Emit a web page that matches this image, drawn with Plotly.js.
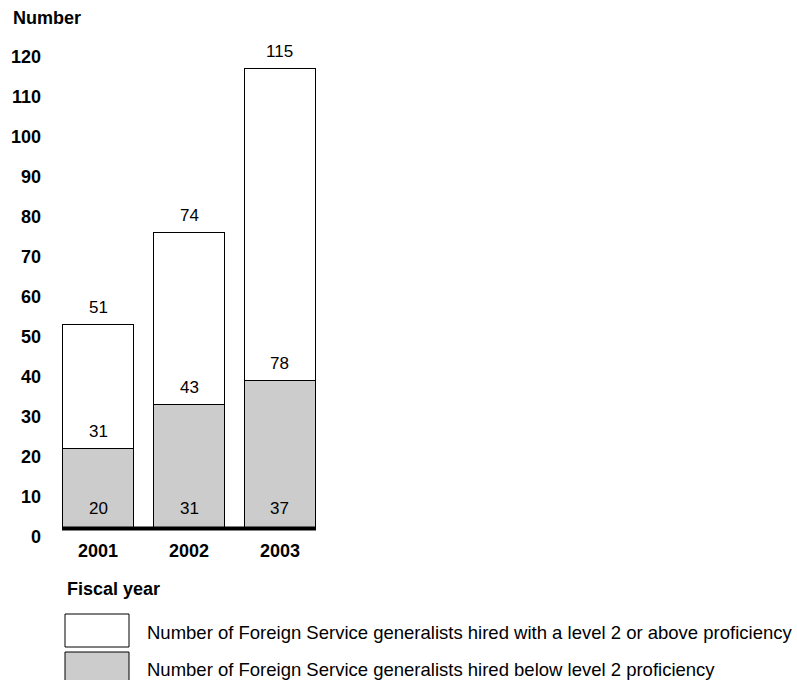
<!DOCTYPE html>
<html>
<head>
<meta charset="utf-8">
<script src="https://cdn.plot.ly/plotly-3.0.1.min.js"></script>
<style>
html,body{margin:0;padding:0;background:#fff;}
#chart{width:797px;height:680px;}
</style>
</head>
<body>
<div id="chart"></div>
<script>
var years = ['2001', '2002', '2003'];
var belowLevel2 = [20, 31, 37];
var level2OrAbove = [31, 43, 78];
var totals = [51, 74, 115];
var legendLabels = [
  'Number of Foreign Service generalists hired with a level 2 or above proficiency',
  'Number of Foreign Service generalists hired below level 2 proficiency'
];

var FONT = 'Liberation Sans, Arial, Helvetica, sans-serif';

var traces = [
  {
    type: 'bar', x: years, y: belowLevel2, name: legendLabels[1],
    marker: {color: '#cccccc', line: {color: '#000', width: 1}},
    hoverinfo: 'x+y'
  },
  {
    type: 'bar', x: years, y: level2OrAbove, name: legendLabels[0],
    marker: {color: '#ffffff', line: {color: '#000', width: 1}},
    hoverinfo: 'x+y'
  }
];

var labelFont = {family: FONT, size: 17, color: '#000'};
var annotations = [];
for (var i = 0; i < years.length; i++) {
  // category axis: annotations use the category index
  annotations.push({x: i, y: 0, yshift: 20, text: String(belowLevel2[i]), showarrow: false,
    font: labelFont, xref: 'x', yref: 'y'});
  annotations.push({x: i, y: belowLevel2[i], yshift: 17, text: String(level2OrAbove[i]), showarrow: false,
    font: labelFont, xref: 'x', yref: 'y'});
  annotations.push({x: i, y: totals[i], yshift: 17, text: String(totals[i]), showarrow: false,
    font: labelFont, xref: 'x', yref: 'y'});
}
// Titles
annotations.push({xref: 'paper', yref: 'paper', x: -51/254, y: 1 + 30/480, xanchor: 'left', yanchor: 'middle',
  text: 'Number', showarrow: false, font: {family: FONT, size: 18, color: '#000', weight: 'bold'}});
annotations.push({xref: 'paper', yref: 'paper', x: 3/254, y: -61/480, xanchor: 'left', yanchor: 'middle',
  text: 'Fiscal year', showarrow: false, font: {family: FONT, size: 18, color: '#000', weight: 'bold'}});
// Legend labels
annotations.push({xref: 'paper', yref: 'paper', x: 83/254, y: -104/480, xanchor: 'left', yanchor: 'middle',
  text: legendLabels[0], showarrow: false, font: {family: FONT, size: 18.5, color: '#000'}});
annotations.push({xref: 'paper', yref: 'paper', x: 83/254, y: -141/480, xanchor: 'left', yanchor: 'middle',
  text: legendLabels[1], showarrow: false, font: {family: FONT, size: 18.5, color: '#000'}});

var shapes = [
  // thick baseline along the x axis
  {type: 'line', xref: 'paper', yref: 'paper', x0: 0, x1: 1, y0: -0.6/480, y1: -0.6/480, line: {color: '#000', width: 4}, layer: 'above'},
  // legend swatches
  {type: 'rect', xref: 'paper', yref: 'paper', x0: 3/254, x1: 67/254, y0: -86/480, y1: -119/480,
    fillcolor: '#ffffff', line: {color: '#000', width: 1}},
  {type: 'rect', xref: 'paper', yref: 'paper', x0: 3/254, x1: 67/254, y0: -124/480, y1: -160/480,
    fillcolor: '#cccccc', line: {color: '#000', width: 1}}
];

var layout = {
  width: 797, height: 680,
  margin: {l: 62, r: 481, t: 48, b: 152, pad: 0},
  paper_bgcolor: '#fff', plot_bgcolor: '#fff',
  barmode: 'stack', bargap: 0.21,
  showlegend: false,
  font: {family: FONT, color: '#000'},
  xaxis: {
    type: 'category', range: [-0.396, 2.396], showgrid: false, zeroline: false, showline: false,
    ticks: '', tickfont: {family: FONT, size: 18, weight: 'bold', color: '#000'}, ticklabelstandoff: 10,
    fixedrange: true
  },
  yaxis: {
    range: [0, 120], dtick: 10, tick0: 0, showgrid: false, zeroline: false, showline: false,
    ticks: '', tickfont: {family: FONT, size: 18, weight: 'bold', color: '#000'},
    ticklabelstandoff: 20, ticklabelshift: 9, fixedrange: true
  },
  annotations: annotations,
  shapes: shapes
};

Plotly.newPlot('chart', traces, layout, {displayModeBar: false, staticPlot: true});
</script>
</body>
</html>
